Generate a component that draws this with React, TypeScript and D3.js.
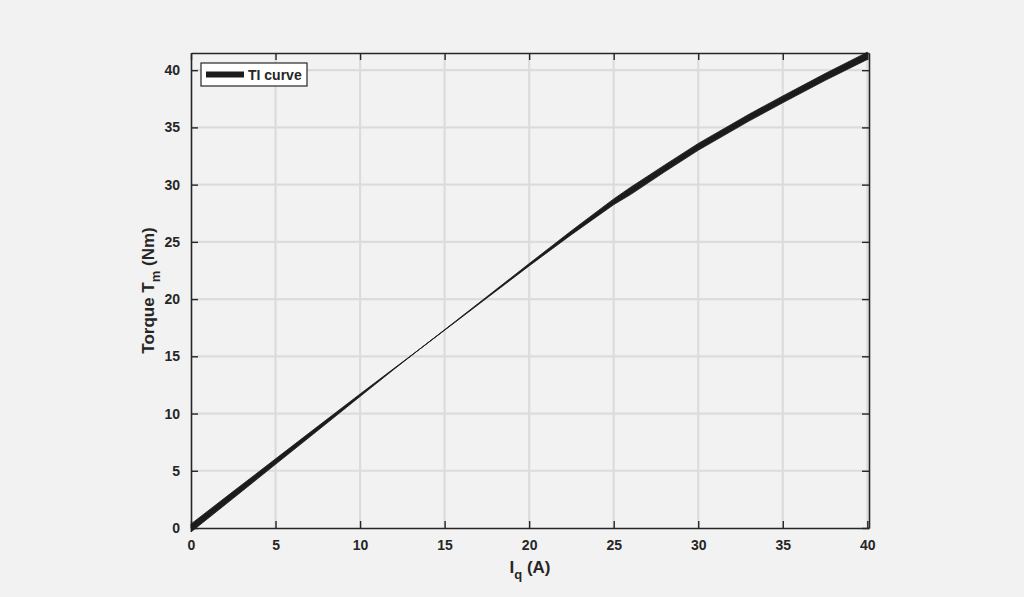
import React, { useEffect, useRef } from 'react';
import * as d3 from 'd3';

// Measured TI curve (band drawn between lower/upper torque readings)
const iq = [0, 2.5, 5, 7.5, 10, 12, 13.5, 15, 17.5, 20, 22.5, 25, 26, 28, 30, 33, 35, 37.5, 40];
const torqueLo = [-0.35, 2.6, 5.56, 8.52, 11.49, 13.86, 15.6, 17.28, 20.09, 22.9, 25.63, 28.25, 29.13, 31.1, 33.0, 35.55, 37.15, 39.1, 40.93];
const torqueHi = [0.35, 3.2, 6.04, 8.88, 11.71, 13.94, 15.6, 17.32, 20.21, 23.1, 25.97, 28.75, 29.77, 31.7, 33.6, 36.15, 37.75, 39.7, 41.57];

const xTicks = [0, 5, 10, 15, 20, 25, 30, 35, 40];
const yTicks = [0, 5, 10, 15, 20, 25, 30, 35, 40];
const xDomain = [0, 40.1];
const yDomain = [0, 41.5];
const legendLabel = 'TI curve';

const FONT = '"Liberation Sans", Arial, Helvetica, sans-serif';

const App: React.FC = () => {
  const svgRef = useRef<SVGSVGElement>(null);

  useEffect(() => {
    document.body.style.margin = '0';
    if (!svgRef.current) return;
    d3.select(svgRef.current).selectAll('*').remove();

    const svgWidth = 1024;
    const svgHeight = 597;
    const margin = { top: 53, right: 155, bottom: 69, left: 191 };
    const width = svgWidth - margin.left - margin.right;
    const height = svgHeight - margin.top - margin.bottom;

    const root = d3.select(svgRef.current)
      .attr('width', svgWidth)
      .attr('height', svgHeight)
      .style('display', 'block')
      .style('background', '#f2f2f2')
      .style('font-family', FONT);

    const svg = root.append('g')
      .attr('transform', `translate(${margin.left},${margin.top})`);

    const xScale = d3.scaleLinear().domain(xDomain).range([0, width]);
    const yScale = d3.scaleLinear().domain(yDomain).range([height, 0]);

    // Grid lines
    svg.append('g')
      .selectAll('line.xg')
      .data(xTicks.filter(t => t > 0))
      .enter()
      .append('line')
      .attr('x1', d => xScale(d))
      .attr('x2', d => xScale(d))
      .attr('y1', 0)
      .attr('y2', height)
      .attr('stroke', '#dcdcdc')
      .attr('stroke-width', 2.2);

    svg.append('g')
      .selectAll('line.yg')
      .data(yTicks.filter(t => t > 0))
      .enter()
      .append('line')
      .attr('x1', 0)
      .attr('x2', width)
      .attr('y1', d => yScale(d))
      .attr('y2', d => yScale(d))
      .attr('stroke', '#dcdcdc')
      .attr('stroke-width', 2.2);

    // Axes (ticks pointing inward, MATLAB style)
    const tickLen = 7;
    const xAxis = d3.axisBottom(xScale).tickValues(xTicks).tickSizeInner(-tickLen).tickSizeOuter(0).tickPadding(12);
    const yAxis = d3.axisLeft(yScale).tickValues(yTicks).tickSizeInner(-tickLen).tickSizeOuter(0).tickPadding(11);
    const xAxisTop = d3.axisTop(xScale).tickValues(xTicks).tickSizeInner(-tickLen).tickSizeOuter(0).tickFormat(() => '');
    const yAxisRight = d3.axisRight(yScale).tickValues(yTicks).tickSizeInner(-tickLen).tickSizeOuter(0).tickFormat(() => '');

    const styleAxis = (g: d3.Selection<SVGGElement, unknown, null, undefined>) => {
      g.select('.domain').attr('stroke', '#262626').attr('stroke-width', 1.6);
      g.selectAll('.tick line').attr('stroke', '#262626').attr('stroke-width', 1.4);
      g.selectAll('.tick text')
        .attr('fill', '#262626')
        .style('font-family', FONT)
        .style('font-size', '14px')
        .style('font-weight', 'bold');
    };

    svg.append('g').attr('transform', `translate(0,${height})`).call(xAxis).call(styleAxis);
    svg.append('g').call(yAxis).call(styleAxis);
    svg.append('g').call(xAxisTop).call(styleAxis);
    svg.append('g').attr('transform', `translate(${width},0)`).call(yAxisRight).call(styleAxis);

    // Curve band
    const pts = iq.map((x, i) => ({ x, lo: torqueLo[i], hi: torqueHi[i] }));
    const band = d3.area<{ x: number; lo: number; hi: number }>()
      .x(d => xScale(d.x))
      .y0(d => yScale(d.lo))
      .y1(d => yScale(d.hi));
    const mid = d3.line<{ x: number; lo: number; hi: number }>()
      .x(d => xScale(d.x))
      .y(d => yScale((d.lo + d.hi) / 2));

    const curve = svg.append('g');
    curve.append('path')
      .datum(pts)
      .attr('d', band)
      .attr('fill', '#1c1c1c')
      .attr('stroke', '#1c1c1c')
      .attr('stroke-width', 0.8)
      .attr('stroke-linejoin', 'round');
    curve.append('path')
      .datum(pts)
      .attr('d', mid)
      .attr('fill', 'none')
      .attr('stroke', '#1c1c1c')
      .attr('stroke-width', 0.8);

    // Legend
    const legend = svg.append('g').attr('transform', 'translate(10,10)');
    legend.append('rect')
      .attr('width', 106)
      .attr('height', 23)
      .attr('fill', '#ffffff')
      .attr('stroke', '#262626')
      .attr('stroke-width', 1.2);
    legend.append('line')
      .attr('x1', 5)
      .attr('x2', 43)
      .attr('y1', 11.5)
      .attr('y2', 11.5)
      .attr('stroke', '#1c1c1c')
      .attr('stroke-width', 6);
    legend.append('text')
      .attr('x', 47)
      .attr('y', 16.5)
      .attr('fill', '#262626')
      .style('font-size', '14px')
      .style('font-weight', 'bold')
      .text(legendLabel);

    // X axis label: I_q (A)
    const xl = svg.append('text')
      .attr('x', width / 2)
      .attr('y', height + 45)
      .attr('text-anchor', 'middle')
      .attr('fill', '#262626')
      .style('font-size', '17px')
      .style('font-weight', 'bold');
    xl.append('tspan').text('I');
    xl.append('tspan').attr('dy', 6).style('font-size', '13px').text('q');
    xl.append('tspan').attr('dy', -6).text(' (A)');

    // Y axis label: Torque T_m (Nm)
    const yl = svg.append('text')
      .attr('transform', 'rotate(-90)')
      .attr('x', -height / 2)
      .attr('y', -37)
      .attr('text-anchor', 'middle')
      .attr('fill', '#262626')
      .style('font-size', '17px')
      .style('font-weight', 'bold');
    yl.append('tspan').text('Torque T');
    yl.append('tspan').attr('dy', 6).style('font-size', '13px').text('m');
    yl.append('tspan').attr('dy', -6).text(' (Nm)');
  }, []);

  return <svg ref={svgRef}></svg>;
};

export default App;
